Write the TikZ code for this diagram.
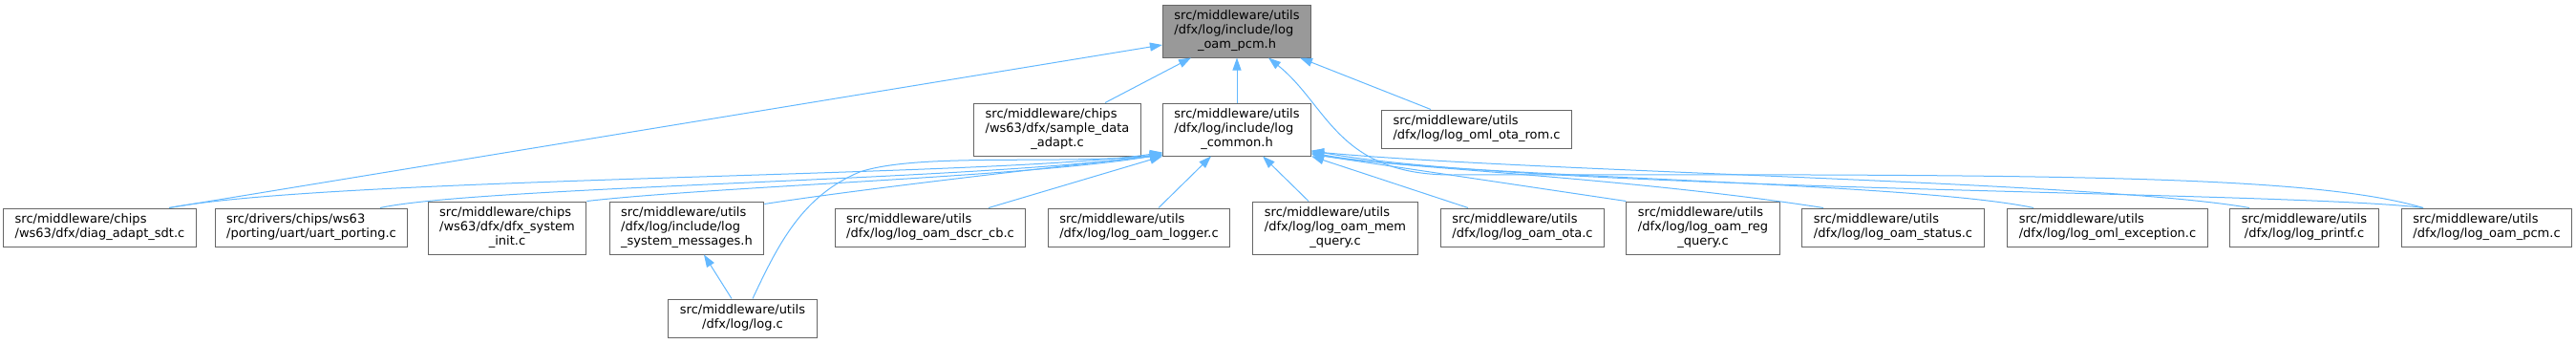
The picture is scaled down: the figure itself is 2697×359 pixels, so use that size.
\documentclass[tikz,border=0pt]{standalone}
\usepackage{fontspec}
\setmainfont{DejaVu Sans}
\usetikzlibrary{arrows.meta,calc}
\definecolor{edgeblue}{HTML}{63B8FF}
\definecolor{nodeborder}{HTML}{666666}
\definecolor{mainfill}{HTML}{999999}
\newcommand{\lbtwo}[2]{\begin{tabular}{@{}l@{}}#1\\\multicolumn{1}{@{}c@{}}{#2}\end{tabular}}
\newcommand{\lbthree}[3]{\begin{tabular}{@{}l@{}}#1\\#2\\\multicolumn{1}{@{}c@{}}{#3}\end{tabular}}
\begin{document}
\begin{tikzpicture}[x=1pt,y=-1pt,
  nd/.style={draw=nodeborder, line width=1pt, fill=white, inner xsep=12pt, inner ysep=5pt, font=\fontsize{13pt}{15pt}\selectfont},
  mainnd/.style={nd, fill=mainfill},
  dep/.style={draw=edgeblue, line width=1pt, -{Triangle[length=13pt,width=9pt]}}]
\useasboundingbox (0,0) rectangle (2697,359);

% top
\node[mainnd] (gray) at (1295,32.5) {\lbthree{src/middleware/utils}{/dfx/log/include/log}{\_oam\_pcm.h}};
% second row
\node[nd] (sample) at (1107,135.5) {\lbthree{src/middleware/chips}{/ws63/dfx/sample\_data}{\_adapt.c}};
\node[nd] (common) at (1295,135.5) {\lbthree{src/middleware/utils}{/dfx/log/include/log}{\_common.h}};
\node[nd] (otarom) at (1546,135) {\lbtwo{src/middleware/utils}{/dfx/log/log\_oml\_ota\_rom.c}};
% third row
\node[nd] (diag) at (104.5,238) {\lbtwo{src/middleware/chips}{/ws63/dfx/diag\_adapt\_sdt.c}};
\node[nd] (uart) at (326,238) {\lbtwo{src/drivers/chips/ws63}{/porting/uart/uart\_porting.c}};
\node[nd] (sysinit) at (531,238.5) {\lbthree{src/middleware/chips}{/ws63/dfx/dfx\_system}{\_init.c}};
\node[nd] (sysmsg) at (719,238.5) {\lbthree{src/middleware/utils}{/dfx/log/include/log}{\_system\_messages.h}};
\node[nd] (dscr) at (974,238) {\lbtwo{src/middleware/utils}{/dfx/log/log\_oam\_dscr\_cb.c}};
\node[nd] (logger) at (1192.5,238) {\lbtwo{src/middleware/utils}{/dfx/log/log\_oam\_logger.c}};
\node[nd] (memq) at (1398,238.5) {\lbthree{src/middleware/utils}{/dfx/log/log\_oam\_mem}{\_query.c}};
\node[nd] (ota) at (1594,238) {\lbtwo{src/middleware/utils}{/dfx/log/log\_oam\_ota.c}};
\node[nd] (regq) at (1783,238.5) {\lbthree{src/middleware/utils}{/dfx/log/log\_oam\_reg}{\_query.c}};
\node[nd] (status) at (1982,238) {\lbtwo{src/middleware/utils}{/dfx/log/log\_oam\_status.c}};
\node[nd] (exception) at (2206.5,238) {\lbtwo{src/middleware/utils}{/dfx/log/log\_oml\_exception.c}};
\node[nd] (printf) at (2412.5,238) {\lbtwo{src/middleware/utils}{/dfx/log/log\_printf.c}};
\node[nd] (pcmc) at (2603.5,238) {\lbtwo{src/middleware/utils}{/dfx/log/log\_oam\_pcm.c}};
% fourth row
\node[nd] (logc) at (777.5,333) {\lbtwo{src/middleware/utils}{/dfx/log/log.c}};

% edges to log_oam_pcm.h
\draw[dep] ($(diag.north)+(72.5,0)$) -- ($(gray.west)+(0,14.5)$);
\draw[dep] ($(sample.north)+(50,0)$) -- ($(gray.south)+(-48,0)$);
\draw[dep] (common.north) -- (gray.south);
\draw[dep] ($(otarom.north)+(-48,0)$) -- ($(gray.south)+(66,0)$);
\draw[dep] ($(pcmc.north)+(-66.5,0)$) .. controls (2420,183) and (2150,182) .. (1520,183)
  .. controls (1400,183) and (1390,110) .. ($(gray.south)+(33,0)$);

% edges to log_common.h
\draw[dep] ($(diag.north)+(72.5,0)$) .. controls (350,185) and (1050,185) .. ($(common.south west)+(0,-4)$);
\draw[dep] ($(uart.north)+(72,0)$) .. controls (500,195) and (1050,188) .. ($(common.south west)+(0,-3)$);
\draw[dep] (sysinit.north east) .. controls (750,195) and (1080,185) .. ($(common.south west)+(0,-2)$);
\draw[dep] ($(sysmsg.north east)+(0,3)$) .. controls (900,198) and (1100,175) .. ($(common.south west)+(0,-1)$);
\draw[dep] ($(logc.north)+(10.5,0)$) .. controls (815,255) and (840,205) .. (900,180)
  .. controls (960,160) and (1100,172) .. ($(common.south west)+(0,-1)$);
\draw[dep] ($(dscr.north)+(61,0)$) -- (common.south west);
\draw[dep] ($(logger.north)+(20.5,0)$) -- ($(common.south)+(-27,0)$);
\draw[dep] ($(memq.north)+(-28,0)$) -- ($(common.south)+(27,0)$);
\draw[dep] ($(ota.north)+(-57,0)$) -- (common.south east);
\draw[dep] (regq.north west) -- ($(common.south east)+(0,-2)$);
\draw[dep] ($(status.north)+(-73,0)$) .. controls (1700,185) and (1450,175) .. ($(common.south east)+(0,-3)$);
\draw[dep] ($(exception.north)+(-77.5,0)$) .. controls (2000,190) and (1500,185) .. ($(common.south east)+(0,-4)$);
\draw[dep] ($(printf.north)+(-57.5,0)$) .. controls (2200,190) and (1600,180) .. ($(common.south east)+(0,-5)$);
\draw[dep] ($(pcmc.north)+(-66.5,0)$) .. controls (2400,200) and (1600,200) .. ($(common.south east)+(0,-6)$);

% edge to log_system_messages.h
\draw[dep] ($(logc.north)+(-11.5,0)$) -- ($(sysmsg.south)+(18,0)$);
\end{tikzpicture}
\end{document}
